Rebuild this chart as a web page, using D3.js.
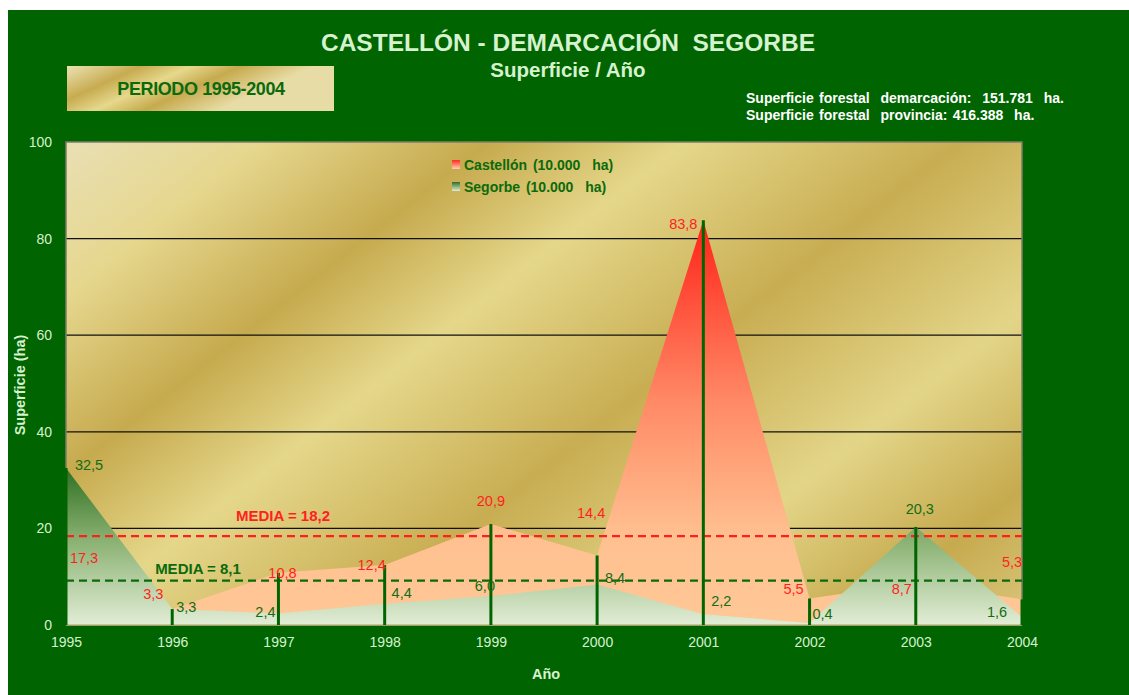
<!DOCTYPE html>
<html>
<head>
<meta charset="utf-8">
<script src="https://cdn.jsdelivr.net/npm/d3@7"></script>
<style>
  html, body { margin: 0; padding: 0; background: #ffffff; }
  text { font-family: "Liberation Sans", Arial, sans-serif; white-space: pre; }
</style>
</head>
<body>
<div id="chart"></div>
<script>
// values
const years = [1995, 1996, 1997, 1998, 1999, 2000, 2001, 2002, 2003, 2004];
const castellon = [17.3, 3.3, 10.8, 12.4, 20.9, 14.4, 83.8, 5.5, 8.7, 5.3];
const segorbe = [32.5, 3.3, 2.4, 4.4, 6.0, 8.4, 2.2, 0.4, 20.3, 1.6];
const yTicks = [0, 20, 40, 60, 80, 100];
const meanLabels = ["MEDIA = 18,2", "MEDIA = 8,1"];
const meanLevels = [18.4, 9.2]; // where the dashed lines sit in the picture
const legendLabels = ["Castellón (10.000  ha)", "Segorbe (10.000  ha)"];
const infoLines = [
  "Superficie forestal  demarcación:  151.781  ha.",
  "Superficie forestal  provincia: 416.388  ha."
];

// label placement relative to each point (px)
const castellonOffsets = [[18, 17], [-19, -15], [4, 0], [-13, 0], [0, -23], [-6, -42], [-20, 4], [-16, -9], [-14, 6], [-10, -37]];
const segorbeOffsets = [[23, -3], [14, -2], [-13, -1], [17, -11], [-6, -10], [18, -6], [18, -13], [13, -9], [4, -18], [-25, -5]];

const W = 1129, H = 695;
const BG = "#006400";
const PALE = "#d6f2cf";
const RED = "#ff1f1f";
const DKGREEN = "#0b6a0b";

const fmt = d3.formatLocale({ decimal: ",", thousands: ".", grouping: [3], currency: ["", ""] }).format(".1f");

const svg = d3.select("#chart").append("svg").attr("width", W).attr("height", H);
const defs = svg.append("defs");

// gold metallic fill
function goldGradient(id, x1, y1, x2, y2, stops) {
  const g = defs.append("linearGradient").attr("id", id)
    .attr("gradientUnits", "userSpaceOnUse")
    .attr("x1", x1).attr("y1", y1).attr("x2", x2).attr("y2", y2);
  stops.forEach(s => g.append("stop").attr("offset", s[0]).attr("stop-color", s[1]));
}

const x = d3.scaleLinear().domain([1995, 2004]).range([66, 1022]);
const y = d3.scaleLinear().domain([0, 100]).range([625, 142]);

goldGradient("goldPlot", x(1995), y(100), x(1995) + 620, y(100) + 790, [
  [0, "#e9dfb4"], [0.12, "#e6d78e"], [0.26, "#c6aa4e"], [0.38, "#e5d78a"],
  [0.55, "#c8ad52"], [0.72, "#e3d588"], [0.86, "#c6aa4e"], [1, "#e0d08a"]
]);
goldGradient("goldBox", 67, 66, 110, 160, [
  [0, "#ece3b4"], [0.3, "#c7ab50"], [0.5, "#e6d88c"], [0.7, "#c6aa4e"], [1, "#e8dca6"]
]);

const gCast = defs.append("linearGradient").attr("id", "gCast").attr("x1", 0).attr("y1", 0).attr("x2", 0).attr("y2", 1);
gCast.append("stop").attr("offset", 0).attr("stop-color", "#ff2218");
gCast.append("stop").attr("offset", 0.45).attr("stop-color", "#ff8a66");
gCast.append("stop").attr("offset", 0.78).attr("stop-color", "#ffc090");
gCast.append("stop").attr("offset", 1).attr("stop-color", "#ffc896");

const gSeg = defs.append("linearGradient").attr("id", "gSeg").attr("x1", 0).attr("y1", 0).attr("x2", 0).attr("y2", 1);
gSeg.append("stop").attr("offset", 0).attr("stop-color", "#2f6f22");
gSeg.append("stop").attr("offset", 0.45).attr("stop-color", "#88b070");
gSeg.append("stop").attr("offset", 1).attr("stop-color", "#e2edd6");

const lgCast = defs.append("linearGradient").attr("id", "lgCast").attr("x1", 0).attr("y1", 0).attr("x2", 0).attr("y2", 1);
lgCast.append("stop").attr("offset", 0).attr("stop-color", "#ff2a1e");
lgCast.append("stop").attr("offset", 1).attr("stop-color", "#ffd2b0");
const lgSeg = defs.append("linearGradient").attr("id", "lgSeg").attr("x1", 0).attr("y1", 0).attr("x2", 0).attr("y2", 1);
lgSeg.append("stop").attr("offset", 0).attr("stop-color", "#2f6f22");
lgSeg.append("stop").attr("offset", 1).attr("stop-color", "#e2edd6");

// background
svg.append("rect").attr("x", 8).attr("y", 10).attr("width", W - 8).attr("height", H - 10).attr("fill", BG);

// titles
svg.append("text").attr("x", 568).attr("y", 51).attr("text-anchor", "middle")
  .attr("font-size", 24.5).attr("font-weight", "bold").attr("fill", PALE)
  .text("CASTELLÓN - DEMARCACIÓN  SEGORBE");
svg.append("text").attr("x", 568).attr("y", 77).attr("text-anchor", "middle")
  .attr("font-size", 20.5).attr("font-weight", "bold").attr("fill", PALE)
  .text("Superficie / Año");

// periodo box
svg.append("rect").attr("x", 67).attr("y", 66).attr("width", 267).attr("height", 45).attr("fill", "url(#goldBox)");
svg.append("text").attr("x", 201).attr("y", 95).attr("text-anchor", "middle")
  .attr("font-size", 18).attr("font-weight", "bold").attr("fill", DKGREEN)
  .attr("letter-spacing", -0.4)
  .text("PERIODO 1995-2004");

// info lines
svg.append("g").selectAll("text").data(infoLines).enter().append("text")
  .attr("x", 746).attr("y", (d, i) => 103 + i * 17)
  .attr("font-size", 14).attr("font-weight", "bold").attr("fill", "#ffffff")
  .attr("word-spacing", 1.5)
  .text(d => d);

// plot area
svg.append("rect")
  .attr("x", x(1995)).attr("y", y(100))
  .attr("width", x(2004) - x(1995)).attr("height", y(0) - y(100))
  .attr("fill", "url(#goldPlot)");

svg.append("g").selectAll("line").data(yTicks.filter(t => t > 0 && t < 100)).enter().append("line")
  .attr("x1", x(1995)).attr("x2", x(2004))
  .attr("y1", d => y(d)).attr("y2", d => y(d))
  .attr("stroke", "#111").attr("stroke-width", 1.3);

// areas
const area = d3.area().x((d, i) => x(years[i])).y0(y(0)).y1(d => y(d));
svg.append("path").datum(castellon).attr("d", area).attr("fill", "url(#gCast)");
svg.append("path").datum(segorbe).attr("d", area).attr("fill", "url(#gSeg)");

// plot frame
svg.append("path")
  .attr("d", `M${x(1995)},${y(0)}V${y(100)}H${x(2004)}V${y(0)}`)
  .attr("fill", "none").attr("stroke", "#7d7d68").attr("stroke-width", 1.5);
svg.append("line").attr("x1", x(1995)).attr("x2", x(2004)).attr("y1", y(0)).attr("y2", y(0))
  .attr("stroke", "#c8b68a").attr("stroke-width", 1.5);

// mean lines
const meanColors = [RED, DKGREEN];
svg.append("g").selectAll("line").data(meanLevels).enter().append("line")
  .attr("x1", x(1995)).attr("x2", x(2004))
  .attr("y1", d => y(d)).attr("y2", d => y(d))
  .attr("stroke", (d, i) => meanColors[i]).attr("stroke-width", 2.2)
  .attr("stroke-dasharray", "8,5");

const meanLabelPos = [[283, 521], [198, 574]];
svg.append("g").selectAll("text").data(meanLabels).enter().append("text")
  .attr("x", (d, i) => meanLabelPos[i][0]).attr("y", (d, i) => meanLabelPos[i][1])
  .attr("text-anchor", "middle").attr("font-size", 15).attr("font-weight", "bold")
  .attr("fill", (d, i) => meanColors[i])
  .text(d => d);

// drop lines
svg.append("g").selectAll("line").data(years).enter().append("line")
  .attr("x1", d => x(d)).attr("x2", d => x(d))
  .attr("y1", y(0))
  .attr("y2", (d, i) => y(Math.max(castellon[i], segorbe[i])))
  .attr("stroke", "#006400").attr("stroke-width", 3);

// value labels
function valueLabels(values, offsets, color) {
  svg.append("g").selectAll("text").data(values).enter().append("text")
    .attr("x", (d, i) => x(years[i]) + offsets[i][0])
    .attr("y", (d, i) => y(d) + offsets[i][1] + 5)
    .attr("text-anchor", "middle").attr("font-size", 14.5)
    .attr("fill", color)
    .text(d => fmt(d));
}
valueLabels(castellon, castellonOffsets, RED);
valueLabels(segorbe, segorbeOffsets, "#146c14");

// legend
const legend = svg.append("g").attr("transform", "translate(452,158)");
const swatches = ["url(#lgCast)", "url(#lgSeg)"];
legendLabels.forEach((lab, i) => {
  legend.append("rect").attr("x", 0).attr("y", i * 22 + 2).attr("width", 8).attr("height", 9)
    .attr("fill", swatches[i]);
  legend.append("text").attr("x", 12).attr("y", i * 22 + 12)
    .attr("font-size", 14).attr("font-weight", "bold").attr("fill", DKGREEN)
    .attr("word-spacing", 2)
    .text(lab);
});

// axes
const yAxis = svg.append("g").attr("transform", `translate(${x(1995)},0)`)
  .call(d3.axisLeft(y).tickValues(yTicks).tickSize(0).tickPadding(14));
yAxis.select(".domain").remove();
yAxis.selectAll("text").attr("font-size", 14).attr("fill", PALE).attr("font-family", "Liberation Sans, Arial, sans-serif");

const xAxis = svg.append("g").attr("transform", `translate(0,${y(0)})`)
  .call(d3.axisBottom(x).tickValues(years).tickFormat(d3.format("d")).tickSize(0).tickPadding(12));
xAxis.select(".domain").remove();
xAxis.selectAll("text").attr("font-size", 14).attr("fill", PALE).attr("font-family", "Liberation Sans, Arial, sans-serif");

svg.append("text").attr("x", 546).attr("y", 679).attr("text-anchor", "middle")
  .attr("font-size", 14.5).attr("font-weight", "bold").attr("fill", PALE).text("Año");
svg.append("text").attr("transform", "translate(25,385) rotate(-90)").attr("text-anchor", "middle")
  .attr("font-size", 14.5).attr("font-weight", "bold").attr("fill", PALE).text("Superficie (ha)");
</script>
</body>
</html>
